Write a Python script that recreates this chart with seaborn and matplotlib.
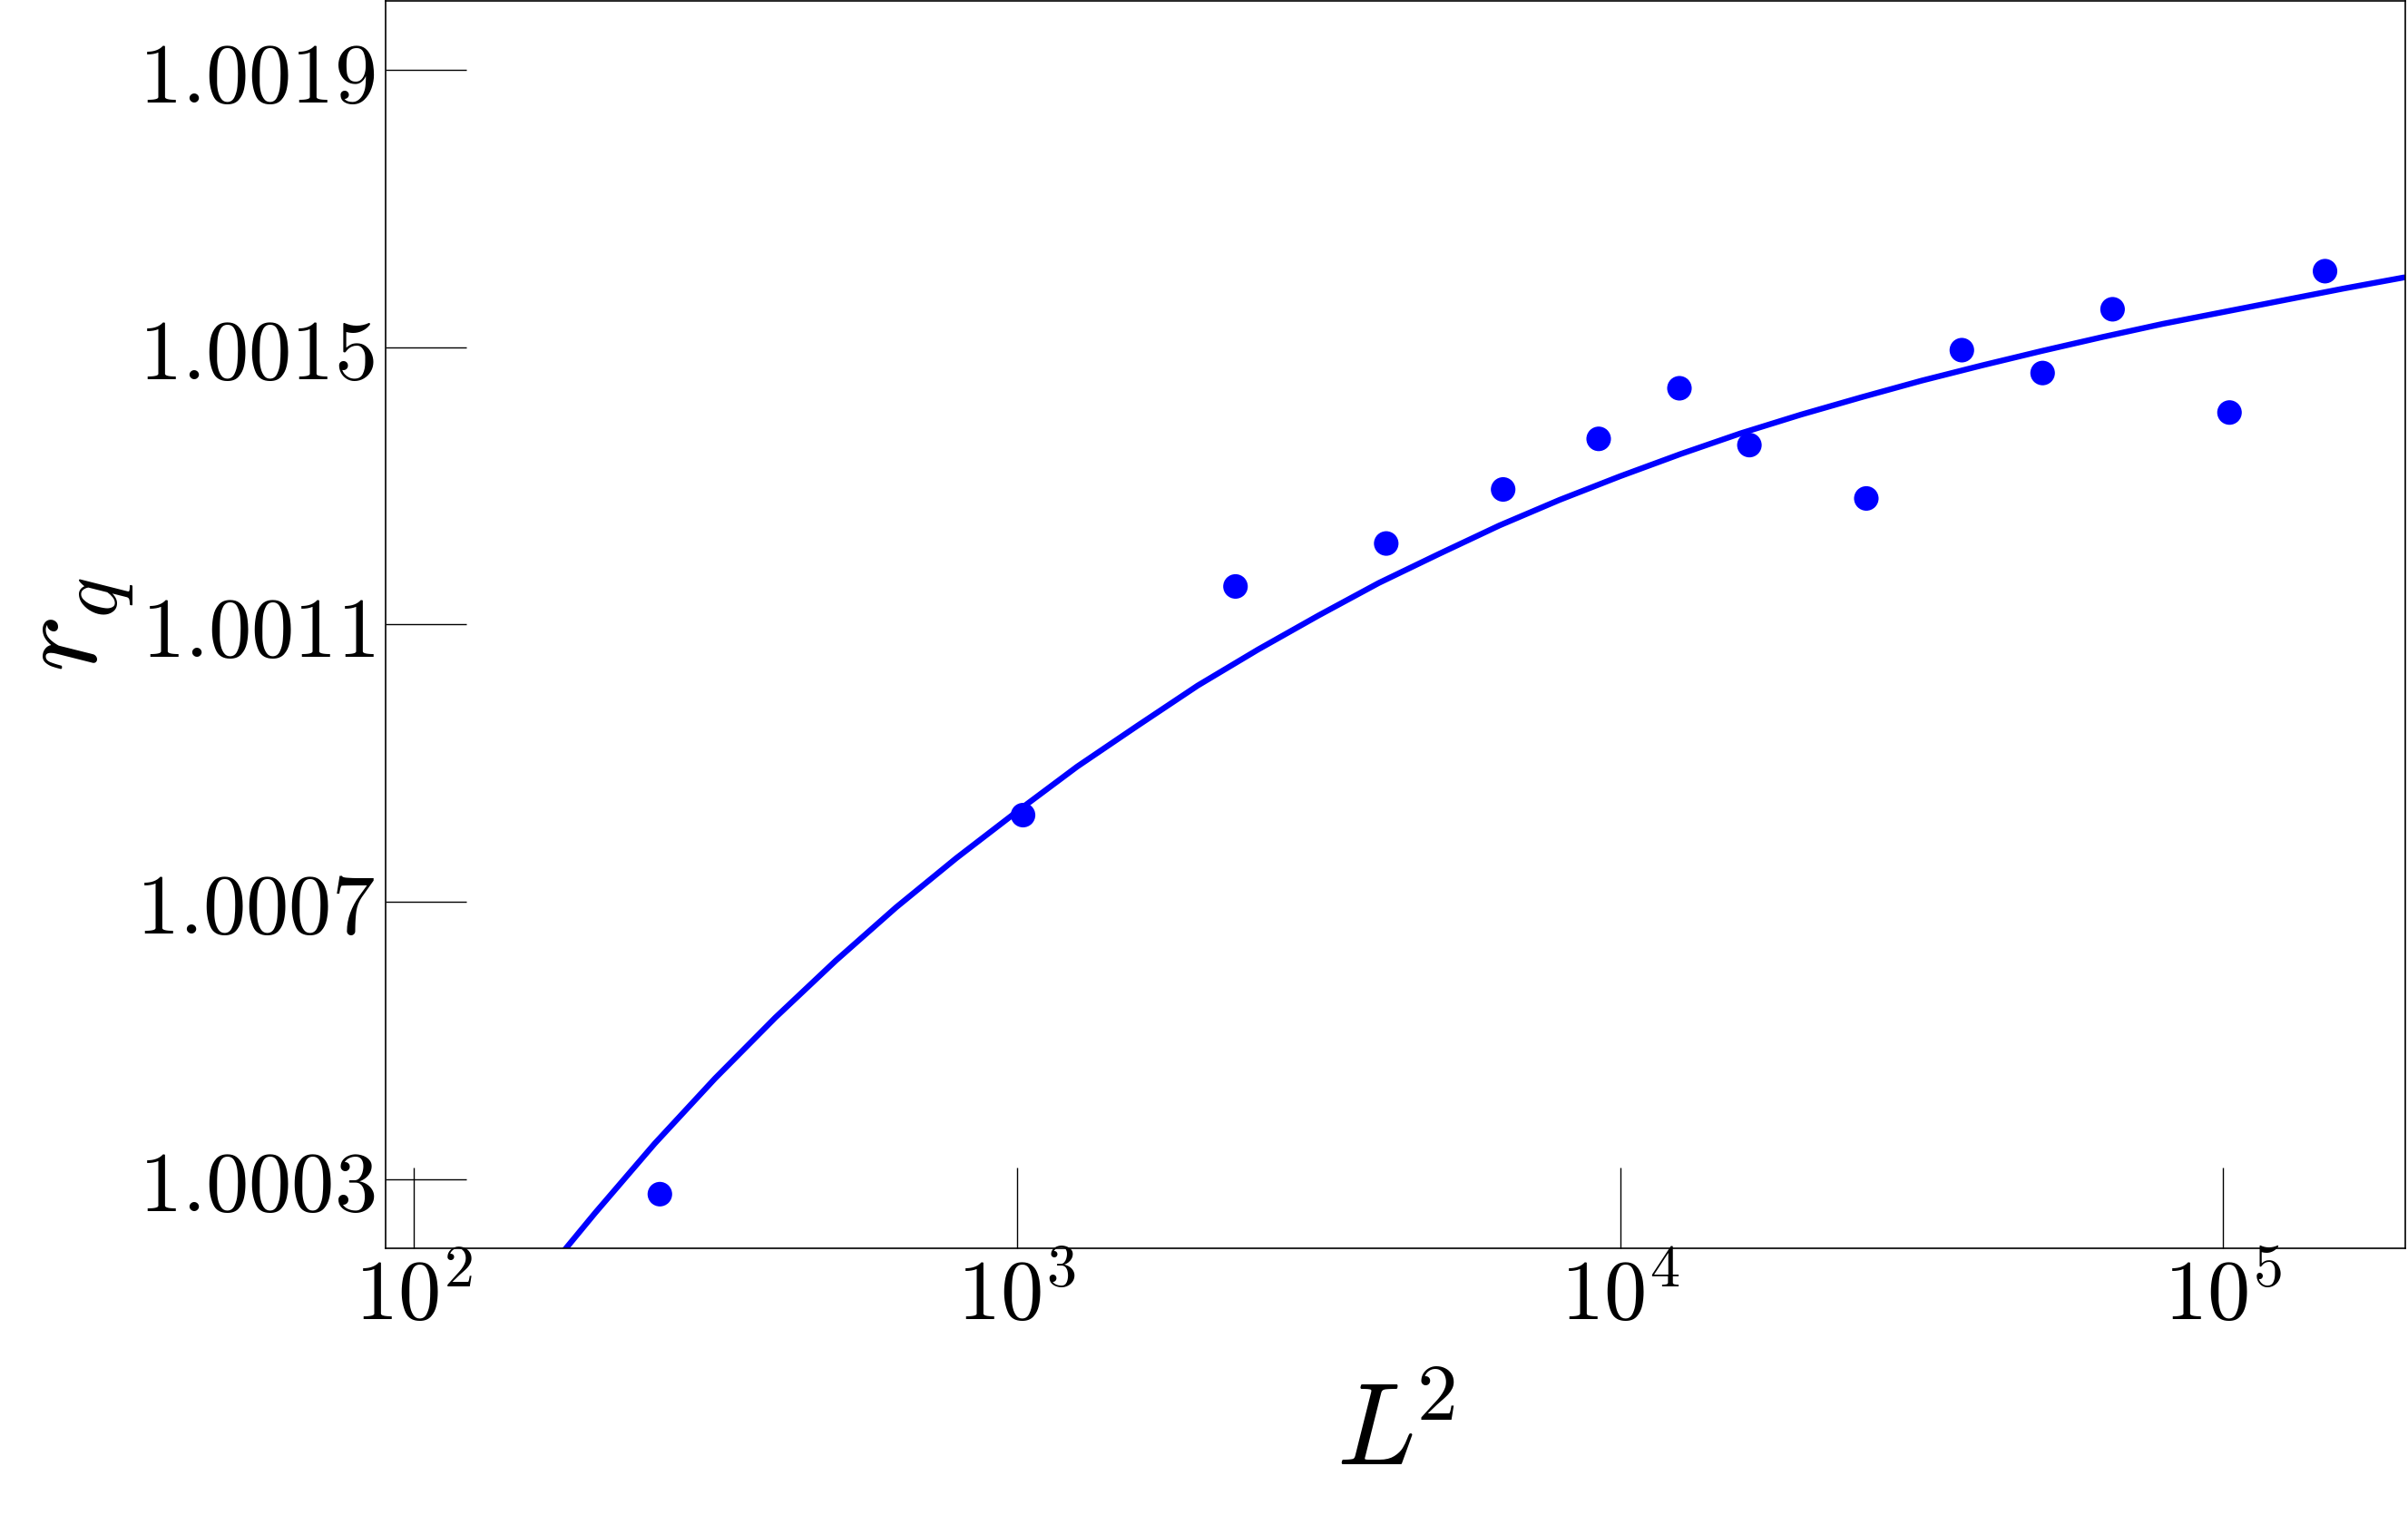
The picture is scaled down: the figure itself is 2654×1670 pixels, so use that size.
import matplotlib
matplotlib.use("Agg")
import matplotlib.pyplot as plt
import seaborn as sns

# measured points (x = L^2)
L2 = [256, 1024, 2304, 4096, 6400, 9216, 12544, 16384, 25600, 36864, 50176, 65536, 102400, 147456]
r_q = [1.000278, 1.000825, 1.001155, 1.001217, 1.001295, 1.001368, 1.001441, 1.001359,
       1.001282, 1.001496, 1.001463, 1.001555, 1.001406, 1.001610]

# fitted curve, every 0.1 decade
fit_L2 = [158, 200, 251, 316, 398, 501, 631, 794, 1000, 1259, 1585, 1995, 2512, 3162,
          3981, 5012, 6310, 7943, 10000, 12589, 15849, 19953, 25119, 31623, 39811,
          50119, 63096, 79433, 100000, 125893, 158489, 199526]
fit_r = [1.000143, 1.000251, 1.000351, 1.000445, 1.000533, 1.000615, 1.000692, 1.000763,
         1.000830, 1.000895, 1.000954, 1.001012, 1.001064, 1.001113, 1.001160, 1.001202,
         1.001243, 1.001280, 1.001314, 1.001346, 1.001376, 1.001403, 1.001428, 1.001452,
         1.001474, 1.001495, 1.001515, 1.001534, 1.001551, 1.001568, 1.001585, 1.001601]

x_ticks = [1e2, 1e3, 1e4, 1e5]
x_ticklabels = [r"$10^{2}$", r"$10^{3}$", r"$10^{4}$", r"$10^{5}$"]
y_ticks = [1.0003, 1.0007, 1.0011, 1.0015, 1.0019]
y_ticklabels = [r"$1.0003$", r"$1.0007$", r"$1.0011$", r"$1.0015$", r"$1.0019$"]

sns.set_style("white")
plt.rcParams["mathtext.fontset"] = "cm"
plt.rcParams["font.family"] = ["DejaVu Serif"]

fig = plt.figure(figsize=(13.27, 8.35), dpi=200)
ax = fig.add_axes([0.1603, 0.1761, 0.8384, 0.8233])

sns.lineplot(x=fit_L2, y=fit_r, color="#0000ff", ax=ax, zorder=2)
ax.lines[0].set_linewidth(2.3)
sns.scatterplot(x=L2, y=r_q, color="#0000ff", s=95, edgecolor="none", linewidth=0, ax=ax, zorder=3)

ax.set_xscale("log")
ax.set_xlim(90, 2e5)
ax.set_ylim(1.0002, 1.0020)
ax.set_xticks(x_ticks, x_ticklabels)
ax.set_yticks(y_ticks, y_ticklabels)
ax.minorticks_off()

ax.tick_params(direction="in", length=32, width=0.5, labelsize=34, top=False, right=False,
               bottom=True, left=True, color="black", labelcolor="black")
ax.tick_params(axis="x", pad=3)
ax.tick_params(axis="y", pad=4.5)

ax.set_xlabel(r"$L^{\!2}$", fontsize=46, labelpad=16, color="black")
ax.set_ylabel(r"$r_q$", fontsize=48, labelpad=0, color="black")

for sp in ax.spines.values():
    sp.set_linewidth(0.6)
    sp.set_color("black")

fig.savefig("out.png", dpi=200)
